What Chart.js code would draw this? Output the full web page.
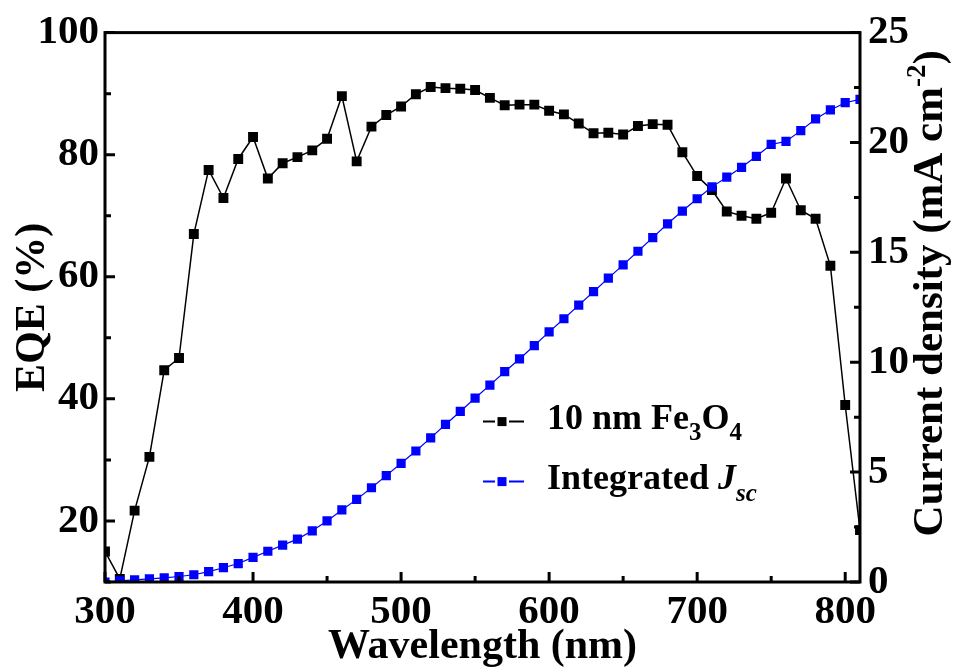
<!DOCTYPE html>
<html>
<head>
<meta charset="utf-8">
<script src="https://cdn.jsdelivr.net/npm/chart.js@4.4.1/dist/chart.umd.min.js"></script>
<style>
  html, body { margin: 0; padding: 0; background: #fff; }
  #wrap { width: 954px; height: 672px; }
</style>
</head>
<body>
<div id="wrap"><canvas id="chart" width="954" height="672"></canvas></div>
<script>
const wavelengths = [300, 310, 320, 330, 340, 350, 360, 370, 380, 390,
  400, 410, 420, 430, 440, 450, 460, 470, 480, 490,
  500, 510, 520, 530, 540, 550, 560, 570, 580, 590,
  600, 610, 620, 630, 640, 650, 660, 670, 680, 690,
  700, 710, 720, 730, 740, 750, 760, 770, 780, 790,
  800, 810];

// EQE (%) of the 10 nm Fe3O4 device
const eqeValues = [15.0, 10.5, 21.7, 30.5, 44.7, 46.7, 67.0, 77.5, 72.9, 79.3,
  82.9, 76.1, 78.6, 79.6, 80.7, 82.6, 89.6, 78.9, 84.6, 86.5,
  87.9, 89.9, 91.1, 90.9, 90.8, 90.6, 89.3, 88.1, 88.2, 88.2,
  87.2, 86.6, 85.1, 83.5, 83.6, 83.3, 84.7, 85.0, 84.9, 80.4,
  76.5, 74.2, 70.7, 70.0, 69.5, 70.5, 76.1, 70.9, 69.5, 61.8,
  39.0, 18.5];

// integrated Jsc (mA cm-2)
const jscValues = [0.0, 0.05, 0.1, 0.14, 0.19, 0.25, 0.33, 0.47, 0.65, 0.84,
  1.12, 1.40, 1.68, 1.95, 2.33, 2.78, 3.28, 3.76, 4.29, 4.84,
  5.40, 5.96, 6.56, 7.17, 7.76, 8.37, 8.96, 9.57, 10.15, 10.76,
  11.38, 11.98, 12.60, 13.21, 13.83, 14.43, 15.05, 15.67, 16.30, 16.88,
  17.44, 17.98, 18.42, 18.87, 19.37, 19.91, 20.05, 20.54, 21.07, 21.48,
  21.81, 21.96];

const xTickLabels = [300, 400, 500, 600, 700, 800];
const eqeTickLabels = [20, 40, 60, 80, 100];
const jscTickLabels = [0, 5, 10, 15, 20, 25];

const FONT = "'Liberation Serif', 'Times New Roman', serif";
const BLUE = '#0000ff';

// tick marks point inwards, majors longer than minors
const frameTicks = {
  id: 'frameTicks',
  afterDatasetsDraw(chart) {
    const { ctx, chartArea: a, scales } = chart;
    ctx.save();
    ctx.strokeStyle = '#000';
    ctx.lineWidth = 3;
    ctx.beginPath();
    scales.x.ticks.forEach((t) => {
      const px = scales.x.getPixelForValue(t.value);
      const len = xTickLabels.includes(t.value) ? 10 : 6;
      ctx.moveTo(px, a.bottom);
      ctx.lineTo(px, a.bottom - len);
    });
    scales.y.ticks.forEach((t) => {
      const py = scales.y.getPixelForValue(t.value);
      const len = eqeTickLabels.includes(t.value) ? 10 : 6;
      ctx.moveTo(a.left, py);
      ctx.lineTo(a.left + len, py);
    });
    scales.y2.ticks.forEach((t) => {
      const py = scales.y2.getPixelForValue(t.value);
      const len = jscTickLabels.includes(t.value) ? 10 : 6;
      ctx.moveTo(a.right, py);
      ctx.lineTo(a.right - len, py);
    });
    ctx.stroke();
    ctx.strokeRect(a.left, a.top, a.right - a.left, a.bottom - a.top);
    ctx.restore();
  },
};

// draw runs of text with sub/superscripts, left to right
function drawRuns(ctx, runs, x, y) {
  runs.forEach((r) => {
    ctx.font = r.font;
    ctx.fillText(r.text, x, y + (r.dy || 0));
    x += ctx.measureText(r.text).width;
  });
  return x;
}

function runsWidth(ctx, runs) {
  return runs.reduce((w, r) => {
    ctx.font = r.font;
    return w + ctx.measureText(r.text).width;
  }, 0);
}

const legendAndTitle = {
  id: 'legendAndTitle',
  afterDraw(chart) {
    const { ctx, chartArea: a } = chart;
    ctx.save();
    ctx.fillStyle = '#000';
    ctx.textBaseline = 'alphabetic';
    ctx.textAlign = 'left';

    // legend
    const big = `bold 36px ${FONT}`;
    const small = `bold 25px ${FONT}`;
    const items = [
      {
        color: '#000',
        runs: [
          { text: '10 nm Fe', font: big },
          { text: '3', font: small, dy: 11 },
          { text: 'O', font: big },
          { text: '4', font: small, dy: 11 },
        ],
      },
      {
        color: BLUE,
        runs: [
          { text: 'Integrated ', font: big },
          { text: 'J', font: `italic bold 36px ${FONT}` },
          { text: 'sc', font: `italic bold 25px ${FONT}`, dy: 12 },
        ],
      },
    ];
    const lx = a.left + 397;
    items.forEach((it, i) => {
      const ly = a.top + 389 + i * 60;
      ctx.strokeStyle = it.color;
      ctx.lineWidth = 2;
      ctx.beginPath();
      ctx.moveTo(lx - 19, ly);
      ctx.lineTo(lx - 7, ly);
      ctx.moveTo(lx + 7, ly);
      ctx.lineTo(lx + 22, ly);
      ctx.stroke();
      ctx.fillStyle = it.color;
      ctx.fillRect(lx - 4.5, ly - 4.5, 9, 9);
      ctx.fillStyle = '#000';
      drawRuns(ctx, it.runs, lx + 45, ly + 7);
    });

    // right axis title with superscript
    const tf = `bold 43px ${FONT}`;
    const sf = `bold 27px ${FONT}`;
    const runs = [
      { text: 'Current density (mA cm', font: tf },
      { text: '-2', font: sf, dy: -17 },
      { text: ')', font: tf },
    ];
    const w = runsWidth(ctx, runs);
    ctx.translate(chart.width - 12, (a.top + a.bottom) / 2 - 14);
    ctx.rotate(-Math.PI / 2);
    drawRuns(ctx, runs, -w / 2, 0);
    ctx.restore();
  },
};

const tickFont = { family: FONT, size: 41, weight: 'bold' };
const titleFont = { family: FONT, size: 42, weight: 'bold' };

new Chart(document.getElementById('chart'), {
  type: 'line',
  data: {
    datasets: [
      {
        label: '10 nm Fe3O4',
        data: wavelengths.map((w, i) => ({ x: w, y: eqeValues[i] })),
        yAxisID: 'y',
        borderColor: '#000',
        backgroundColor: '#000',
        borderWidth: 1.5,
        pointStyle: 'rect',
        pointRadius: 7,
        pointBorderWidth: 0,
        tension: 0,
        clip: 0,
        order: 2,
      },
      {
        label: 'Integrated Jsc',
        data: wavelengths.map((w, i) => ({ x: w, y: jscValues[i] })),
        yAxisID: 'y2',
        borderColor: BLUE,
        backgroundColor: BLUE,
        borderWidth: 1.2,
        pointStyle: 'rect',
        pointRadius: 6.5,
        pointBorderWidth: 0,
        tension: 0,
        clip: 0,
        order: 1,
      },
    ],
  },
  options: {
    responsive: false,
    animation: false,
    layout: { padding: { top: 28, left: 0, right: 0, bottom: 0 } },
    plugins: {
      legend: { display: false },
      tooltip: { enabled: false },
    },
    scales: {
      x: {
        type: 'linear',
        min: 300,
        max: 810,
        grid: { display: false, drawTicks: false },
        border: { display: false },
        ticks: {
          stepSize: 50,
          includeBounds: false,
          autoSkip: false,
          maxRotation: 0,
          padding: 6,
          color: '#000',
          font: tickFont,
          callback: (v) => (xTickLabels.includes(v) ? v : ''),
        },
        title: {
          display: true,
          text: 'Wavelength (nm)',
          color: '#000',
          font: titleFont,
          padding: 0,
        },
        afterFit: (s) => {
          s.height = 90;
        },
      },
      y: {
        position: 'left',
        min: 10,
        max: 100,
        grid: { display: false, drawTicks: false },
        border: { display: false },
        ticks: {
          stepSize: 10,
          autoSkip: false,
          padding: 6,
          color: '#000',
          font: tickFont,
          callback: (v) => (eqeTickLabels.includes(v) ? v : ''),
        },
        title: {
          display: true,
          text: 'EQE (%)',
          color: '#000',
          font: titleFont,
          padding: { top: 8, bottom: 0 },
        },
        afterFit: (s) => {
          s.width = 105;
        },
      },
      y2: {
        position: 'right',
        min: 0,
        max: 25,
        grid: { display: false, drawTicks: false },
        border: { display: false },
        ticks: {
          stepSize: 2.5,
          autoSkip: false,
          padding: 8,
          color: '#000',
          font: tickFont,
          callback: (v) => (jscTickLabels.includes(v) ? v : ''),
        },
        afterFit: (s) => {
          s.width = 94;
        },
      },
    },
  },
  plugins: [frameTicks, legendAndTitle],
});
</script>
</body>
</html>
